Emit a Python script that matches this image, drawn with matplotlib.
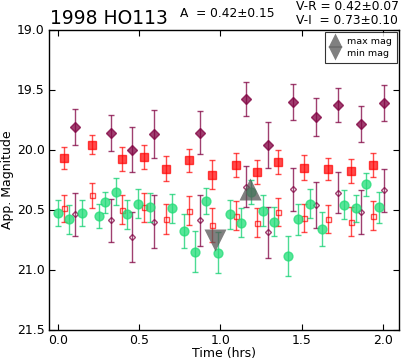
import matplotlib
matplotlib.use("Agg")
import matplotlib.pyplot as plt
from matplotlib.lines import Line2D

# Filled squares (R band)
t_r = [0.036, 0.21, 0.392, 0.53, 0.667, 0.809, 0.948, 1.094, 1.225, 1.358, 1.516, 1.662, 1.805, 1.938]
m_r = [20.07, 19.96, 20.08, 20.06, 20.16, 20.09, 20.21, 20.13, 20.19, 20.10, 20.15, 20.16, 20.18, 20.13]
e_r = [0.09, 0.08, 0.10, 0.10, 0.105, 0.095, 0.12, 0.10, 0.10, 0.10, 0.10, 0.09, 0.10, 0.10]
# Open squares (R corrected)
m_rc = [20.49, 20.38, 20.50, 20.48, 20.58, 20.51, 20.63, 20.55, 20.61, 20.52, 20.57, 20.58, 20.60, 20.55]
e_rc = [0.115, 0.105, 0.12, 0.12, 0.125, 0.12, 0.14, 0.12, 0.12, 0.12, 0.12, 0.115, 0.12, 0.12]

# Filled diamonds (I band)
t_i = [0.108, 0.327, 0.456, 0.592, 0.876, 1.159, 1.293, 1.45, 1.586, 1.727, 1.867, 2.006]
m_i = [19.81, 19.86, 20.00, 19.87, 19.86, 19.58, 19.96, 19.60, 19.73, 19.63, 19.79, 19.61]
e_i = [0.15, 0.15, 0.19, 0.20, 0.18, 0.14, 0.19, 0.15, 0.16, 0.14, 0.15, 0.15]
# Open diamonds (I corrected)
m_ic = [20.54, 20.59, 20.73, 20.60, 20.59, 20.31, 20.69, 20.33, 20.46, 20.36, 20.52, 20.34]
e_ic = [0.18, 0.18, 0.21, 0.22, 0.21, 0.17, 0.21, 0.18, 0.19, 0.17, 0.18, 0.18]

# Filled circles (V band)
t_v = [0.0, 0.067, 0.149, 0.255, 0.292, 0.36, 0.425, 0.493, 0.565, 0.702, 0.774, 0.841, 0.911,
       0.985, 1.057, 1.127, 1.19, 1.26, 1.331, 1.416, 1.481, 1.549, 1.625, 1.764, 1.834, 1.897, 1.977]
m_v = [20.53, 20.58, 20.53, 20.55, 20.44, 20.35, 20.54, 20.45, 20.48, 20.49, 20.68, 20.85, 20.43,
       20.86, 20.54, 20.61, 20.35, 20.51, 20.60, 20.885, 20.58, 20.45, 20.66, 20.46, 20.49, 20.29, 20.48]
e_v = [0.11, 0.12, 0.11, 0.10, 0.09, 0.11, 0.12, 0.12, 0.12, 0.12, 0.14, 0.17, 0.11,
       0.17, 0.12, 0.12, 0.10, 0.13, 0.12, 0.165, 0.13, 0.12, 0.14, 0.12, 0.115, 0.095, 0.13]

# Extremes
t_max, m_max = 1.185, 20.33
t_min, m_min = 0.97, 20.75

title = "1998 HO113"
amp_text = "A  = 0.42\u00b10.15"
vr_text = "V-R = 0.42\u00b10.07"
vi_text = "V-I  = 0.73\u00b10.10"

plt.rcParams['font.family'] = ['DejaVu Sans']
fig = plt.figure(figsize=(4.01, 3.62), dpi=100)
ax = fig.add_axes([49/401, 1-329.5/362, (399-49)/401, 300/362])

red = '#ff0000'
purple = '#800040'
green = '#22dd77'
lw = 1.0
cs = 2.5

ax.errorbar(t_i, m_i, yerr=e_i, fmt='D', ms=5.5, color=purple, mfc=purple, mec=purple, alpha=0.75,
            ecolor=purple, elinewidth=lw, capsize=cs, capthick=lw, zorder=3)
ax.errorbar(t_i, m_ic, yerr=e_ic, fmt='D', ms=3.0, mfc='none', mec=purple, mew=1.0, alpha=0.75,
            ecolor=purple, elinewidth=lw, capsize=cs, capthick=lw, zorder=3)
ax.errorbar(t_r, m_r, yerr=e_r, fmt='s', ms=6.4, color=red, mfc=red, mec=red, alpha=0.7,
            ecolor=red, elinewidth=lw, capsize=cs, capthick=lw, zorder=4)
ax.errorbar(t_r, m_rc, yerr=e_rc, fmt='s', ms=3.6, mfc='none', mec=red, mew=1.0, alpha=0.7,
            ecolor=red, elinewidth=lw, capsize=cs, capthick=lw, zorder=4)
ax.errorbar(t_v, m_v, yerr=e_v, fmt='o', ms=6.4, color=green, mfc=green, mec=green, alpha=0.75,
            ecolor='#10d070', elinewidth=lw, capsize=cs, capthick=lw, zorder=5)

ax.plot([t_max], [m_max], '^', ms=15.5, color='#555555', alpha=0.75, mec='none', zorder=6)
ax.plot([t_min], [m_min], 'v', ms=15.5, color='#555555', alpha=0.75, mec='none', zorder=6)

ax.set_xlim(-0.055, 2.1)
ax.set_ylim(21.5, 19.0)
ax.set_xticks([0.0, 0.5, 1.0, 1.5, 2.0])
ax.set_yticks([19.0, 19.5, 20.0, 20.5, 21.0, 21.5])
ax.set_xticklabels(['0.0', '0.5', '1.0', '1.5', '2.0'])
ax.set_yticklabels(['19.0', '19.5', '20.0', '20.5', '21.0', '21.5'])
ax.tick_params(direction='in', top=True, right=True, labelsize=9, length=4, width=0.8, pad=3)
for s in ax.spines.values():
    s.set_linewidth(1.0)
ax.set_xlabel('Time (hrs)', fontsize=9, labelpad=0)
ax.set_ylabel('App. Magnitude', fontsize=9, labelpad=2)

handles = [Line2D([], [], marker='^', ls='none', ms=9.5, color='#555555', alpha=0.75, mec='none'),
           Line2D([], [], marker='v', ls='none', ms=9.5, color='#555555', alpha=0.75, mec='none')]
leg = ax.legend(handles, ['max mag', 'min mag'], loc='upper right', fontsize=6.8, numpoints=1,
                frameon=True, fancybox=False, borderpad=0.5, handletextpad=0.7, labelspacing=0.4,
                borderaxespad=0.25, handlelength=1.1)
leg.get_frame().set_edgecolor('black')
leg.get_frame().set_linewidth(0.8)

fig.text(50/401, 1-23.5/362, title, fontsize=13.5, ha='left', va='baseline')
fig.text(180/401, 1-17.3/362, amp_text, fontsize=8.8, ha='left', va='baseline')
fig.text(296/401, 1-9.5/362, vr_text, fontsize=8.8, ha='left', va='baseline')
fig.text(296/401, 1-23.5/362, vi_text, fontsize=8.8, ha='left', va='baseline')

fig.savefig('out.png', dpi=100)
